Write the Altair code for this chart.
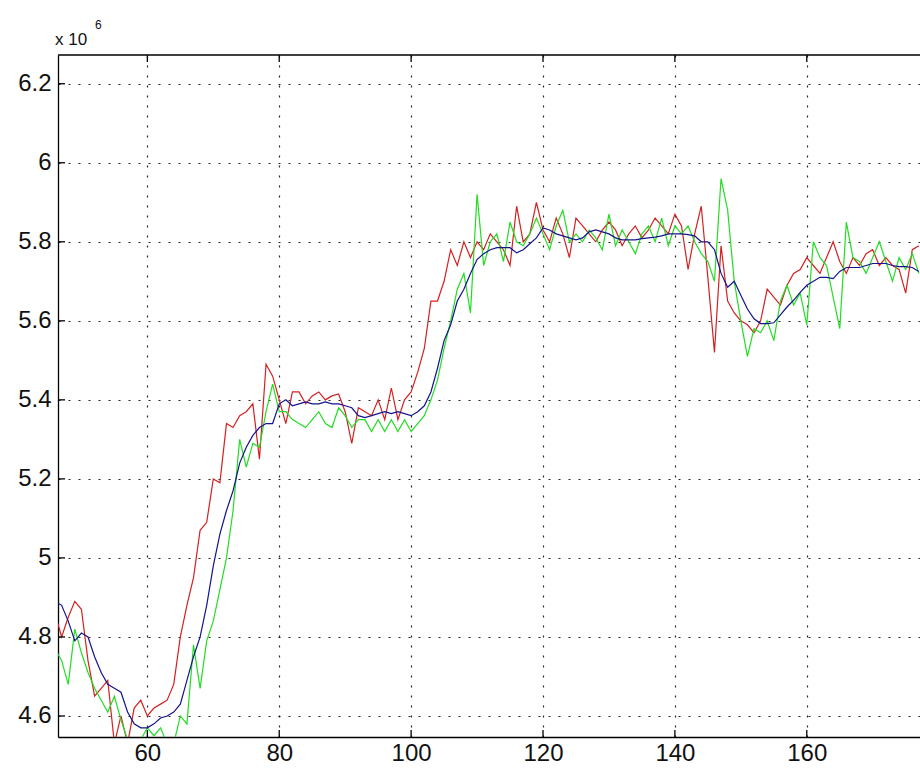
import altair as alt
import pandas as pd

# Sample index of the first point in every trace
x_start = 46

# Raw signal (red), second measurement (green) and smoothed estimate (blue), in units of 10^6
red = [4.86, 4.80, 4.85, 4.89, 4.87, 4.74, 4.65, 4.67, 4.69, 4.53,
       4.60, 4.53, 4.62, 4.64, 4.60, 4.62, 4.63, 4.64, 4.68, 4.80,
       4.88, 4.95, 5.07, 5.09, 5.20, 5.19, 5.34, 5.33, 5.36, 5.37,
       5.39, 5.25, 5.49, 5.46, 5.40, 5.34, 5.42, 5.42, 5.39, 5.41,
       5.42, 5.40, 5.41, 5.415, 5.37, 5.29, 5.38, 5.37, 5.36, 5.40,
       5.35, 5.43, 5.35, 5.40, 5.42, 5.47, 5.53, 5.65, 5.65, 5.70,
       5.78, 5.74, 5.80, 5.76, 5.80, 5.78, 5.82, 5.80, 5.78, 5.74,
       5.89, 5.80, 5.82, 5.90, 5.83, 5.80, 5.86, 5.82, 5.76, 5.86,
       5.84, 5.82, 5.80, 5.83, 5.85, 5.83, 5.79, 5.82, 5.84, 5.81,
       5.83, 5.86, 5.84, 5.82, 5.87, 5.84, 5.73, 5.82, 5.89, 5.71,
       5.52, 5.79, 5.65, 5.62, 5.60, 5.59, 5.57, 5.60, 5.68, 5.66,
       5.64, 5.69, 5.72, 5.73, 5.76, 5.74, 5.72, 5.76, 5.80, 5.75,
       5.72, 5.76, 5.74, 5.77, 5.78, 5.74, 5.76, 5.74, 5.73, 5.67,
       5.78, 5.79]

green = [4.77, 4.74, 4.68, 4.82, 4.76, 4.71, 4.67, 4.64, 4.61, 4.65,
         4.59, 4.54, 4.53, 4.54, 4.57, 4.55, 4.57, 4.53, 4.53, 4.60,
         4.58, 4.78, 4.67, 4.79, 4.84, 4.92, 5.00, 5.12, 5.30, 5.23,
         5.29, 5.28, 5.37, 5.44, 5.37, 5.37, 5.35, 5.34, 5.33, 5.35,
         5.37, 5.34, 5.33, 5.38, 5.36, 5.33, 5.35, 5.35, 5.32, 5.35,
         5.32, 5.35, 5.32, 5.35, 5.32, 5.34, 5.36, 5.40, 5.45, 5.53,
         5.60, 5.68, 5.72, 5.62, 5.92, 5.74, 5.80, 5.82, 5.75, 5.85,
         5.80, 5.79, 5.82, 5.86, 5.82, 5.78, 5.84, 5.88, 5.80, 5.82,
         5.80, 5.83, 5.81, 5.78, 5.87, 5.79, 5.83, 5.80, 5.77, 5.82,
         5.84, 5.80, 5.86, 5.79, 5.84, 5.82, 5.84, 5.80, 5.77, 5.75,
         5.70, 5.96, 5.88, 5.70, 5.60, 5.51, 5.58, 5.57, 5.60, 5.55,
         5.65, 5.69, 5.64, 5.67, 5.59, 5.80, 5.76, 5.74, 5.66, 5.58,
         5.85, 5.76, 5.75, 5.72, 5.76, 5.80, 5.75, 5.70, 5.76, 5.73,
         5.77, 5.72]

blue = [4.89, 4.88, 4.84, 4.79, 4.81, 4.80, 4.75, 4.71, 4.68, 4.67,
        4.66, 4.61, 4.58, 4.57, 4.57, 4.58, 4.595, 4.60, 4.61, 4.63,
        4.69, 4.75, 4.80, 4.88, 4.98, 5.06, 5.12, 5.17, 5.24, 5.28,
        5.31, 5.33, 5.34, 5.34, 5.39, 5.40, 5.385, 5.39, 5.395, 5.39,
        5.39, 5.395, 5.39, 5.39, 5.385, 5.38, 5.36, 5.355, 5.36, 5.365,
        5.37, 5.365, 5.37, 5.365, 5.36, 5.37, 5.385, 5.42, 5.48, 5.55,
        5.59, 5.65, 5.68, 5.72, 5.755, 5.77, 5.78, 5.785, 5.785, 5.785,
        5.772, 5.78, 5.795, 5.81, 5.835, 5.83, 5.82, 5.815, 5.81, 5.805,
        5.81, 5.825, 5.83, 5.825, 5.82, 5.81, 5.805, 5.805, 5.805, 5.808,
        5.81, 5.812, 5.815, 5.82, 5.82, 5.82, 5.818, 5.815, 5.80, 5.80,
        5.78, 5.72, 5.685, 5.70, 5.665, 5.63, 5.605, 5.593, 5.593, 5.595,
        5.615, 5.635, 5.652, 5.672, 5.69, 5.70, 5.71, 5.71, 5.707, 5.725,
        5.735, 5.735, 5.735, 5.74, 5.745, 5.745, 5.745, 5.74, 5.737, 5.737,
        5.735, 5.725]

x_ticks = [60, 80, 100, 120, 140, 160]
y_ticks = [4.6, 4.8, 5.0, 5.2, 5.4, 5.6, 5.8, 6.0, 6.2]

n = len(blue)
samples = list(range(x_start, x_start + n))
df = pd.DataFrame({
    "sample": samples * 3,
    "value": red + green + blue,
    "series": ["red"] * n + ["green"] * n + ["blue"] * n,
})

W, H = 862, 682
FONT = "Liberation Sans"
x_scale = alt.Scale(domain=[46.45, 177.17], nice=False, zero=False)
y_scale = alt.Scale(domain=[4.5468, 6.2727], nice=False, zero=False)

grid_style = dict(grid=True, gridColor="#000000", gridDash=[2, 8], gridWidth=1.2,
                  gridOpacity=0.85, ticks=False, domainColor="#000000", domainWidth=1.3,
                  labelFont=FONT, labelFontSize=24, labelColor="#111111", title=None)

x_axis = alt.Axis(values=x_ticks, labelPadding=4, **grid_style)
y_axis = alt.Axis(values=y_ticks, labelPadding=7, format="~g", **grid_style)


def xenc(field):
    return alt.X(field, scale=x_scale, axis=x_axis)


def yenc(field):
    return alt.Y(field, scale=y_scale, axis=y_axis)


def trace(name, color):
    return alt.Chart(df).transform_filter(alt.datum.series == name).mark_line(
        color=color, strokeWidth=1.2, clip=True
    ).encode(x=xenc("sample:Q"), y=yenc("value:Q"), order="sample:Q")


tick_len = 7
xt = pd.DataFrame({"t": x_ticks})
yt = pd.DataFrame({"t": y_ticks})
rule = dict(color="#000000", strokeWidth=1.3)

x_ticks_bottom = alt.Chart(xt).mark_rule(**rule).encode(
    x=xenc("t:Q"), y=alt.value(H), y2=alt.value(H - tick_len))
x_ticks_top = alt.Chart(xt).mark_rule(**rule).encode(
    x=xenc("t:Q"), y=alt.value(0), y2=alt.value(tick_len))
y_ticks_left = alt.Chart(yt).mark_rule(**rule).encode(
    y=yenc("t:Q"), x=alt.value(0), x2=alt.value(tick_len))
top_border = alt.Chart(xt.head(1)).mark_rule(**rule).encode(
    x=alt.value(0), x2=alt.value(W), y=alt.value(0))

# Common exponent of the y values, drawn above the top-left corner
exp_base = alt.Chart(pd.DataFrame({"t": ["x 10"]})).mark_text(
    font=FONT, fontSize=17, align="left", baseline="alphabetic", color="#111111"
).encode(text="t:N", x=alt.value(-3), y=alt.value(-10))
exp_power = alt.Chart(pd.DataFrame({"t": ["6"]})).mark_text(
    font=FONT, fontSize=12, align="left", baseline="alphabetic", color="#111111"
).encode(text="t:N", x=alt.value(37), y=alt.value(-26))

chart = alt.layer(
    trace("red", "#d42020"),
    trace("green", "#22dd22"),
    trace("blue", "#14148c"),
    x_ticks_bottom, x_ticks_top, y_ticks_left, top_border,
    exp_base, exp_power,
).properties(
    width=W, height=H,
    autosize=alt.AutoSizeParams(type="none"),
    padding={"left": 58, "top": 55, "right": 0, "bottom": 39},
    background="#ffffff",
).configure_view(strokeOpacity=0)

chart.save("out.html", embed_options={"renderer": "svg", "actions": False})
